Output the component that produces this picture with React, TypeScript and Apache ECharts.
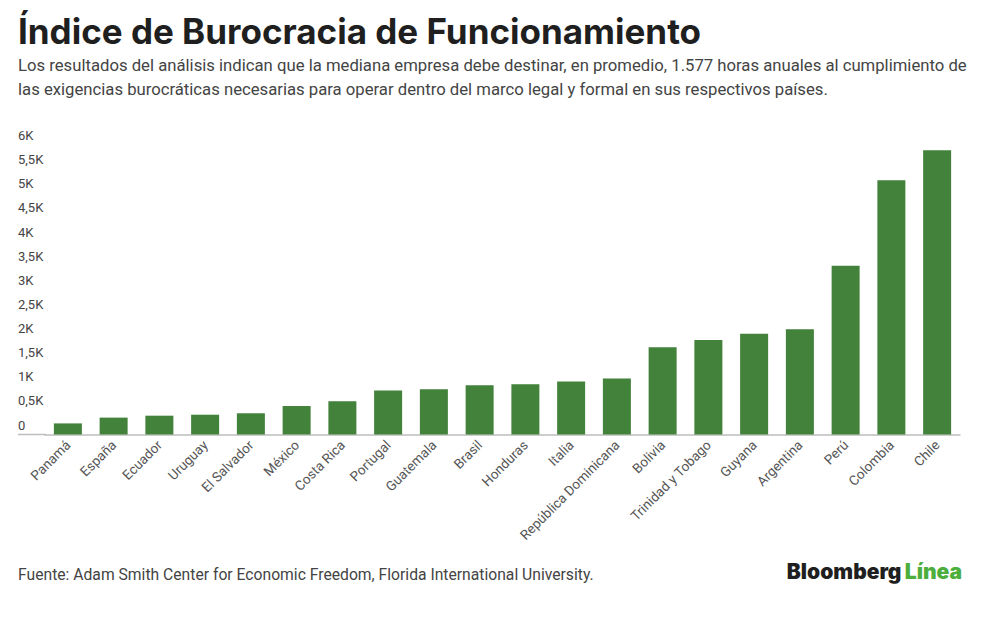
import { useEffect, useRef } from "react";
import * as echarts from "echarts";

const COUNTRIES = [
  "Panamá", "España", "Ecuador", "Uruguay", "El Salvador", "México", "Costa Rica",
  "Portugal", "Guatemala", "Brasil", "Honduras", "Italia", "República Dominicana",
  "Bolivia", "Trinidad y Tobago", "Guyana", "Argentina", "Perú", "Colombia", "Chile",
];

// horas anuales
const HOURS = [
  230, 350, 390, 410, 440, 590, 690,
  910, 940, 1020, 1040, 1100, 1160,
  1810, 1960, 2090, 2180, 3500, 5270, 5890,
];

const Y_MAX = 6000;
const Y_STEP = 500;

const TITLE = "Índice de Burocracia de Funcionamiento";
const SUBTITLE_1 =
  "Los resultados del análisis indican que la mediana empresa debe destinar, en promedio, 1.577 horas anuales al cumplimiento de";
const SUBTITLE_2 =
  "las exigencias burocráticas necesarias para operar dentro del marco legal y formal en sus respectivos países.";
const SOURCE = "Fuente: Adam Smith Center for Economic Freedom, Florida International University.";

const BAR_COLOR = "#42823a";
const TEXT_COLOR = "#444";
const AXIS_COLOR = "#bdbdbd";

const fmtK = (v: number) => (v === 0 ? "0" : String(v / 1000).replace(".", ",") + "K");

export default function App() {
  const chartRef = useRef<HTMLDivElement>(null);

  useEffect(() => {
    if (!chartRef.current) return;
    const chart = echarts.init(chartRef.current, null, { renderer: "svg" });

    chart.setOption({
      animation: false,
      backgroundColor: "#fff",
      textStyle: { fontFamily: "Roboto" },
      grid: { left: 45, right: 40, top: 145, bottom: 195.5, containLabel: false },
      xAxis: {
        type: "category",
        data: COUNTRIES,
        axisTick: { show: false },
        axisLine: { lineStyle: { color: AXIS_COLOR, width: 1.5 } },
        axisLabel: {
          interval: 0,
          rotate: 45,
          color: "#555",
          fontSize: 13.5,
          margin: 8,
          fontFamily: "Roboto",
        },
      },
      yAxis: {
        type: "value",
        min: 0,
        max: Y_MAX,
        interval: Y_STEP,
        axisLine: { show: false },
        axisTick: { show: false },
        splitLine: { show: false },
        axisLabel: {
          formatter: fmtK,
          align: "left",
          verticalAlign: "bottom",
          margin: 27,
          padding: [0, 0, 3, 0],
          color: TEXT_COLOR,
          fontSize: 13,
          fontFamily: "Roboto",
        },
      },
      series: [
        {
          type: "bar",
          data: HOURS,
          barWidth: 28,
          itemStyle: { color: BAR_COLOR },
        },
      ],
      graphic: [
        {
          type: "line",
          shape: { x1: 18, y1: 434.5, x2: 46, y2: 434.5 },
          style: { stroke: AXIS_COLOR, lineWidth: 1.5 },
        },
        {
          type: "text",
          left: 18,
          top: 13,
          style: {
            text: TITLE,
            fill: "#1f1f1f",
            font: "bold 35px Inter",
          },
        },
        {
          type: "text",
          left: 18,
          top: 57,
          style: { text: SUBTITLE_1, fill: TEXT_COLOR, font: "16.7px Roboto" },
        },
        {
          type: "text",
          left: 18,
          top: 81,
          style: { text: SUBTITLE_2, fill: TEXT_COLOR, font: "16.7px Roboto" },
        },
        {
          type: "text",
          left: 18,
          top: 566,
          style: { text: SOURCE, fill: TEXT_COLOR, font: "15.7px Roboto" },
        },
        {
          type: "text",
          right: 38,
          top: 561,
          style: {
            text: "{b|Bloomberg} {l|Línea}",
            rich: {
              b: { fill: "#1f1f1f", font: "900 21px Inter" },
              l: { fill: "#4cae3c", font: "900 21px Inter" },
            },
          },
        },
      ],
    });

    return () => chart.dispose();
  }, []);

  return (
    <div
      ref={chartRef}
      style={{ position: "absolute", left: 0, top: 0, width: 1000, height: 630 }}
    />
  );
}
